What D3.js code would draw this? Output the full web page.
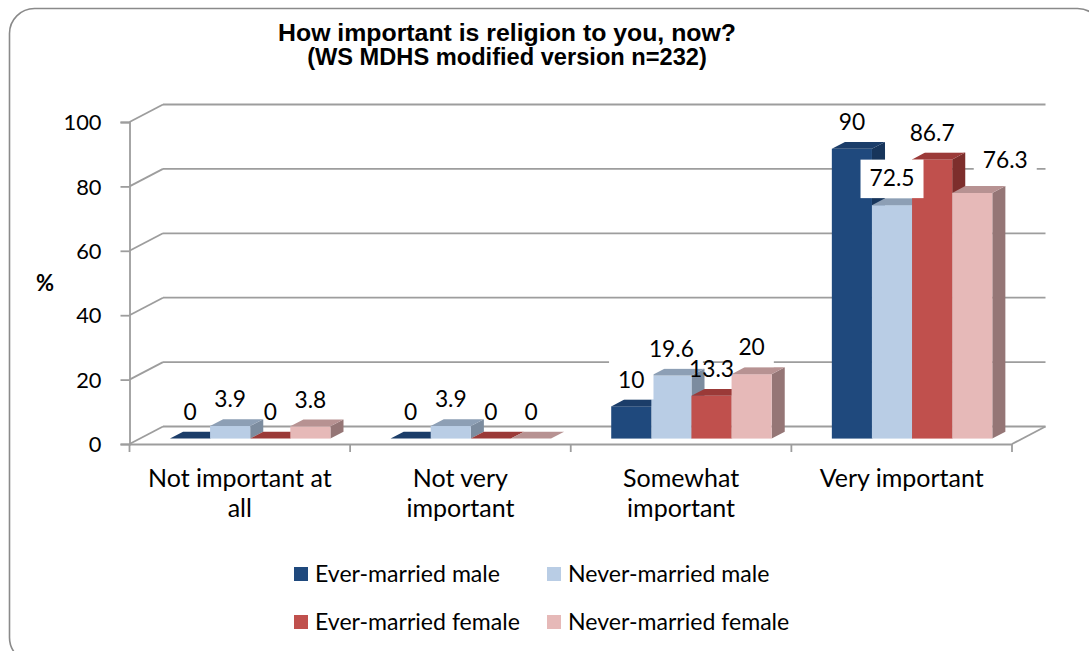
<!DOCTYPE html>
<html>
<head>
<meta charset="utf-8">
<script src="https://cdn.jsdelivr.net/npm/d3@7"></script>
<style>
  html, body { margin: 0; padding: 0; background: #fff; }
  svg { display: block; }
  text { font-family: Lato, "Open Sans", sans-serif; fill: #000; }
</style>
</head>
<body>
<svg id="chart" width="1089" height="651"></svg>
<script>
// ---- data ----
const categories = ["Not important at all", "Not very important", "Somewhat important", "Very important"];
const categoryLines = [["Not important at", "all"], ["Not very", "important"], ["Somewhat", "important"], ["Very important"]];
const seriesNames = ["Ever-married male", "Never-married male", "Ever-married female", "Never-married female"];
const everMarriedMale = [0, 0, 10, 90];
const neverMarriedMale = [3.9, 3.9, 19.6, 72.5];
const everMarriedFemale = [0, 0, 13.3, 86.7];
const neverMarriedFemale = [3.8, 0, 20, 76.3];
const yTicks = [0, 20, 40, 60, 80, 100];
const titleLines = ["How important is religion to you, now?", "(WS MDHS modified version n=232)"];
const yAxisTitle = "%";

const seriesValues = [everMarriedMale, neverMarriedMale, everMarriedFemale, neverMarriedFemale];

// ---- styles ----
const frontColors = ["#1F497D", "#B9CDE5", "#C0504D", "#E6B9B8"];
const topColors   = ["#1b3d69", "#8d9fb5", "#9b3a38", "#b79292"];
const sideColors  = ["#17355b", "#7c8c9f", "#7d2e2c", "#957676"];
const gridColor = "#9d9d9d";
const titleFont = "'Liberation Sans', Arial, sans-serif";

const svg = d3.select("#chart");

// font size helper: size so that a sample string spans the width seen in the original
function fitSize(sample, width, weight, family) {
  const t = svg.append("text").attr("font-size", 100).attr("font-weight", weight || "normal")
    .style("font-family", family || null).text(sample);
  const w = t.node().getComputedTextLength();
  t.remove();
  return 100 * width / w;
}
const fsTitle1 = fitSize(titleLines[0], 458, "bold", titleFont);
const fsTitle2 = fitSize(titleLines[1], 400, "bold", titleFont);
const fsCat = fitSize("Very important", 164);
const fsTick = fitSize("100", 38);
const fsLegend = fitSize("Ever-married male", 185);
const fsLabel = fitSize("72.5", 45);

// outer border
svg.append("rect")
  .attr("x", 9.5).attr("y", 8.5).attr("width", 1093).attr("height", 654)
  .attr("rx", 25).attr("ry", 25)
  .attr("fill", "#fff").attr("stroke", "#8a8a8a").attr("stroke-width", 1.6);

// geometry
const left = 129.5, right = 1012, baseY = 444, topY = 122;
const depthX = 33.5, depthY = -17.5;
const barDepth0 = 0.31, barDepth1 = 0.70;

const x0 = d3.scaleBand().domain(categories).range([left, right]).paddingInner(0).paddingOuter(0);
const x1 = d3.scaleBand().domain(seriesNames).range([0, x0.bandwidth()]).paddingInner(0).paddingOuter(0.75);
const y = d3.scaleLinear().domain([0, 100]).range([baseY, topY]);

// side wall diagonals + back wall gridlines
const g = svg.append("g");
yTicks.forEach(t => {
  const yy = y(t);
  g.append("line").attr("x1", left).attr("y1", yy).attr("x2", left + depthX).attr("y2", yy + depthY)
    .attr("stroke", gridColor).attr("stroke-width", 1.8);
  g.append("line").attr("x1", left + depthX).attr("y1", yy + depthY).attr("x2", right + depthX).attr("y2", yy + depthY)
    .attr("stroke", gridColor).attr("stroke-width", 1.8);
});
// floor right edge
g.append("line").attr("x1", right).attr("y1", baseY).attr("x2", right + depthX).attr("y2", baseY + depthY)
  .attr("stroke", gridColor).attr("stroke-width", 1.8);

// y axis (front)
const yAxis = d3.axisLeft(y).tickValues(yTicks).tickSize(9).tickPadding(19);
const yAxisG = svg.append("g").attr("transform", `translate(${left},0)`).call(yAxis);
yAxisG.select(".domain").attr("stroke", gridColor).attr("stroke-width", 1.8);
yAxisG.selectAll(".tick line").attr("stroke", gridColor).attr("stroke-width", 1.8);
yAxisG.selectAll(".tick text").attr("font-size", fsTick).attr("font-family", "Lato").attr("fill", "#000").attr("dy", "0.35em");

// x axis (front)
const xAxis = d3.axisBottom(x0).tickSize(0).tickFormat("");
const xAxisG = svg.append("g").attr("transform", `translate(0,${baseY})`).call(xAxis);
xAxisG.select(".domain").attr("stroke", gridColor).attr("stroke-width", 1.8);
const boundaries = categories.map(c => x0(c)).concat([right]);
boundaries.forEach(bx => {
  xAxisG.append("line").attr("x1", bx).attr("x2", bx).attr("y1", 0).attr("y2", 8)
    .attr("stroke", gridColor).attr("stroke-width", 1.8);
});

// category labels
categories.forEach((c, i) => {
  const t = svg.append("text").attr("text-anchor", "middle").attr("font-size", fsCat)
    .attr("x", x0(c) + x0.bandwidth() / 2).attr("y", 487);
  categoryLines[i].forEach((ln, k) => {
    t.append("tspan").attr("x", x0(c) + x0.bandwidth() / 2).attr("dy", k === 0 ? 0 : 30).text(ln);
  });
});

// bars (3D)
const bars = svg.append("g");
const barW = x1.bandwidth();
const labels = [];
categories.forEach((c, ci) => {
  seriesNames.forEach((s, si) => {
    const v = seriesValues[si][ci];
    const fx = x0(c) + x1(s) + barDepth0 * depthX;
    const fyB = y(0) + barDepth0 * depthY;
    const fyT = y(v) + barDepth0 * depthY;
    const dx = (barDepth1 - barDepth0) * depthX, dy = (barDepth1 - barDepth0) * depthY;
    bars.append("path").attr("d", `M${fx + barW},${fyT} L${fx + barW + dx},${fyT + dy} L${fx + barW + dx},${fyB + dy} L${fx + barW},${fyB} Z`)
      .attr("fill", sideColors[si]);
    bars.append("rect").attr("x", fx).attr("y", fyT).attr("width", barW).attr("height", Math.max(0, fyB - fyT))
      .attr("fill", frontColors[si]);
    bars.append("path").attr("d", `M${fx},${fyT} L${fx + dx},${fyT + dy} L${fx + barW + dx},${fyT + dy} L${fx + barW},${fyT} Z`)
      .attr("fill", topColors[si]);
    labels.push({ v, cx: fx + barW / 2, cy: fyT - 27, ci, si });
  });
});

// label styling in the original: a few moved labels, a few with white fill
const labelShift = { "3-3": [33, -6] };
const filledLabels = new Set(["2-0", "2-1", "2-3", "3-1", "3-2", "3-3"]);

const boxG = svg.append("g");
const textG = svg.append("g");
labels.forEach(d => {
  const key = d.ci + "-" + d.si;
  const sh = labelShift[key] || [0, 0];
  const cx = d.cx + sh[0], cy = d.cy + sh[1];
  const t = textG.append("text").attr("text-anchor", "middle").attr("font-size", fsLabel)
    .attr("x", cx).attr("y", cy + fsLabel * 0.36).text(d3.format("")(d.v));
  if (filledLabels.has(key)) {
    const w = t.node().getComputedTextLength();
    boxG.append("rect").attr("fill", "#fff")
      .attr("x", cx - w / 2 - 9).attr("y", cy - 18.5).attr("width", w + 18).attr("height", 38.5);
  }
});

// titles (one text element, two lines)
const title = svg.append("text").attr("text-anchor", "middle").attr("font-weight", "bold").style("font-family", titleFont);
title.append("tspan").attr("x", 507).attr("y", 41).attr("font-size", fsTitle1).text(titleLines[0]);
title.append("tspan").attr("x", 507).attr("y", 65).attr("font-size", fsTitle2).text(titleLines[1]);

svg.append("text").attr("x", 45).attr("y", 291).attr("text-anchor", "middle")
  .attr("font-size", 22).attr("font-weight", "bold").text(yAxisTitle);

// legend
const legendPos = [[294, 567], [547, 567], [294, 615], [547, 615]];
seriesNames.forEach((s, i) => {
  const [lx, ly] = legendPos[i];
  svg.append("rect").attr("x", lx).attr("y", ly).attr("width", 14).attr("height", 14).attr("fill", frontColors[i]);
  svg.append("text").attr("x", lx + 21).attr("y", ly + 14.5).attr("font-size", fsLegend).text(s);
});
</script>
</body>
</html>
